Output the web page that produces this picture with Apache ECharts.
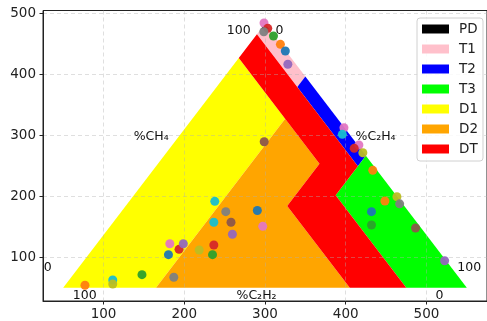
<!DOCTYPE html>
<html>
<head>
<meta charset="utf-8">
<script src="https://cdn.jsdelivr.net/npm/echarts@6/dist/echarts.min.js"></script>
<style>html,body{margin:0;padding:0;background:#fff}#c{width:487px;height:321px}</style>
</head>
<body>
<div id="c"></div>
<script>
// Zones of Duval triangle 1, vertices given as [%CH4, %C2H4, %C2H2]
const zoneNames = ['PD', 'T1', 'T2', 'T3', 'D1', 'D2', 'DT'];
const zonePD = [[98, 2, 0], [100, 0, 0], [98, 0, 2]];
const zoneT1 = [[98, 0, 2], [98, 2, 0], [80, 20, 0], [76, 20, 4], [96, 0, 4]];
const zoneT2 = [[80, 20, 0], [50, 50, 0], [46, 50, 4], [76, 20, 4]];
const zoneT3 = [[50, 50, 0], [0, 100, 0], [0, 85, 15], [35, 50, 15]];
const zoneD1 = [[87, 0, 13], [0, 0, 100], [0, 23, 77], [64, 23, 13]];
const zoneD2 = [[64, 23, 13], [0, 23, 77], [0, 71, 29], [31, 40, 29], [47, 40, 13]];
const zoneDT = [[96, 0, 4], [46, 50, 4], [35, 50, 15], [0, 85, 15], [0, 71, 29], [31, 40, 29], [47, 40, 13], [87, 0, 13]];

// Sample points (cartesian data values)
const ptX = [77.0, 111.4, 111.4, 147.6, 180.4, 182.1, 193.5, 198.8, 187.0, 218.5,
  237.8, 236.6, 251.4, 257.9, 259.6, 236.6, 235.0, 290.5, 297.2, 299.0,
  433.5, 463.4, 448.5, 466.8, 431.9, 431.9, 486.5, 522.5, 298.8, 303.4,
  298.5, 310.5, 319.1, 325.2, 328.3, 397.8, 395.8, 416.3, 410.5, 421.2];
const ptY = [54.1, 62.8, 56.2, 71.5, 104.3, 122.3, 113.1, 122.3, 67.2, 112.0,
  191.8, 157.4, 174.8, 157.4, 137.7, 120.2, 104.3, 176.7, 150.8, 289.5,
  242.6, 199.3, 192.3, 187.7, 174.8, 153.0, 148.0, 94.4, 484.1, 475.4,
  469.8, 462.8, 449.2, 438.2, 416.6, 312.5, 301.6, 284.1, 278.7, 271.5];
// colour-cycle slot of each point (0 blue,1 orange,2 green,3 red,4 purple,5 brown,6 pink,7 gray,8 olive,9 cyan)
const ptSlot = [1, 9, 8, 2, 0, 6, 3, 4, 7, 8,
  9, 9, 7, 5, 4, 3, 2, 0, 6, 5,
  1, 8, 1, 7, 0, 2, 5, 4, 6, 3,
  7, 2, 1, 0, 4, 6, 9, 6, 3, 8];

const xTicks = [100, 200, 300, 400, 500];
const yTicks = [100, 200, 300, 400, 500];

const annText = ['100', '0', '%CH₄', '%C₂H₄', '%C₂H₂', '0', '100', '100', '0'];
const annX = [267.4, 317.8, 159, 437, 289.5, 31, 76.6, 553, 516];
const annY = [471, 471, 297.2, 297, 36.5, 82.5, 36.5, 82.5, 36.5];

const TAB10 = ['#1f77b4', '#ff7f0e', '#2ca02c', '#d62728', '#9467bd', '#8c564b', '#e377c2', '#7f7f7f', '#bcbd22', '#17becf'];
const zoneColors = {PD: '#000000', T1: '#ffc0cb', T2: '#0000ff', T3: '#00ff00', D1: '#ffff00', D2: '#ffa500', DT: '#ff0000'};
const zoneVerts = {PD: zonePD, T1: zoneT1, T2: zoneT2, T3: zoneT3, D1: zoneD1, D2: zoneD2, DT: zoneDT};

function tern(p) {
  const s = p[0] + p[1] + p[2];
  return [50 + 500 * (p[1] + p[0] / 2) / s, 50 + 500 * (Math.sqrt(3) / 2) * p[0] / s];
}

const chart = echarts.init(document.getElementById('c'), null, {renderer: 'canvas'});

const zoneSeries = zoneNames.map(function (name) {
  const pts = zoneVerts[name].map(tern);
  return {
    name: name,
    type: 'custom',
    z: -1,
    silent: true,
    itemStyle: {color: zoneColors[name]},
    data: pts,
    renderItem: function (params, api) {
      if (params.dataIndex !== 0) return null;
      return {
        type: 'polygon',
        shape: {points: pts.map(function (q) { return api.coord(q); })},
        style: {fill: zoneColors[name], stroke: null}
      };
    }
  };
});

const gridLine = {show: true, lineStyle: {color: 'rgba(176,176,176,0.5)', type: [4, 3], width: 0.8}};

const option = {
  animation: false,
  grid: {left: 43, right: -3, top: 10.5, bottom: 20, show: true, borderColor: '#222', borderWidth: 1, backgroundColor: 'transparent'},
  xAxis: {
    type: 'value', min: 25, max: 575, interval: 100,
    axisLine: {show: true, lineStyle: {color: '#222', width: 1}},
    axisTick: {show: true, length: 3.5, lineStyle: {color: '#222'}, customValues: xTicks},
    axisLabel: {color: '#222', fontSize: 13.5, fontFamily: 'DejaVu Sans', margin: 6, customValues: xTicks},
    splitLine: gridLine
  },
  yAxis: {
    type: 'value', min: 28.35, max: 504.65, interval: 100,
    axisLine: {show: true, lineStyle: {color: '#222', width: 1}},
    axisTick: {show: true, length: 3.5, lineStyle: {color: '#222'}, customValues: yTicks},
    axisLabel: {color: '#222', fontSize: 13.5, fontFamily: 'DejaVu Sans', margin: 7, customValues: yTicks},
    splitLine: gridLine
  },
  legend: {
    data: zoneNames,
    orient: 'vertical',
    left: 417, top: 18,
    padding: [4, 5, 5, 5],
    itemWidth: 27, itemHeight: 9, itemGap: 6,
    icon: 'rect',
    backgroundColor: 'rgba(255,255,255,0.85)',
    borderColor: '#d0d0d0', borderWidth: 1, borderRadius: 3,
    textStyle: {fontSize: 13.5, fontFamily: 'DejaVu Sans', color: '#222', lineHeight: 14, padding: [0, 0, 0, 5]}
  },
  series: zoneSeries.concat([
    {
      name: 'points', type: 'scatter', symbolSize: 9, z: 3,
      data: ptX.map(function (x, i) { return [x, ptY[i]]; }),
      itemStyle: {opacity: 0.95, color: function (p) { return TAB10[ptSlot[p.dataIndex]]; }}
    },
    {
      name: 'annotations', type: 'scatter', symbolSize: 0, silent: true, z: 4,
      itemStyle: {opacity: 1, color: 'transparent'},
      data: annX.map(function (x, i) { return {value: [x, annY[i]], name: annText[i]}; }),
      label: {show: true, position: 'inside', formatter: '{b}', color: '#111', opacity: 1, fontSize: 12.5, fontFamily: 'DejaVu Sans'}
    }
  ])
};
chart.setOption(option);
</script>
</body>
</html>
